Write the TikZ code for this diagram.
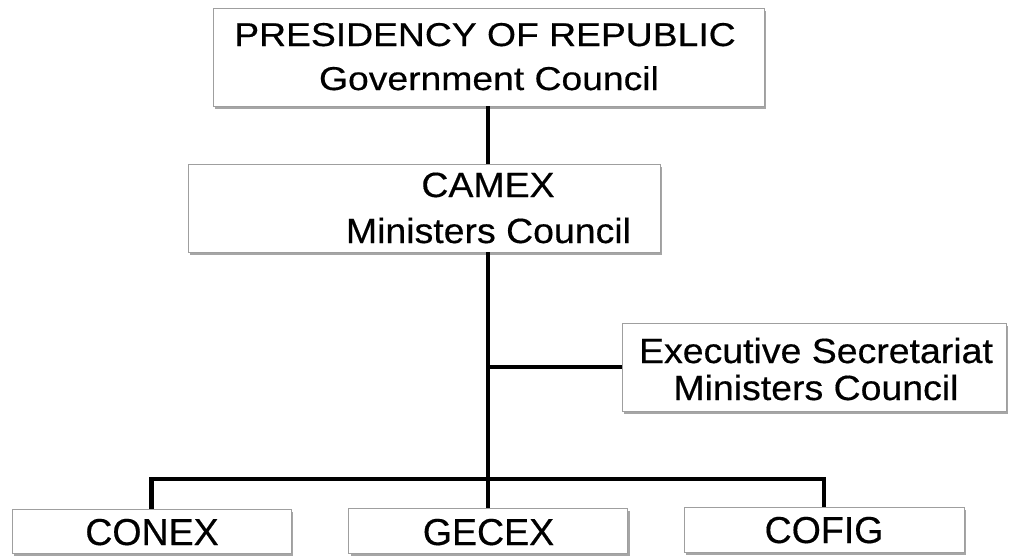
\documentclass[tikz,border=0pt]{standalone}
\usepackage{fontspec}
\setmainfont{Liberation Sans}
\newfontfamily\dfont[FakeBold=0.4]{Liberation Sans}
\usetikzlibrary{shadows}
\begin{document}
\begin{tikzpicture}[x=1pt,y=-1pt,
  box/.style={draw=gray!75, line width=0.8pt, fill=white, inner sep=0pt,
    drop shadow={shadow xshift=2pt,shadow yshift=-2.5pt,opacity=0.35,fill=black}},
  lbl/.style={anchor=base, inner sep=0pt},
  ftop/.style={font=\dfont\fontsize{33}{40}\selectfont},
  fmid/.style={font=\dfont\fontsize{35}{42}\selectfont},
  fbot/.style={font=\dfont\fontsize{37.5}{44}\selectfont},
  wire/.style={line width=4.5pt}]
\useasboundingbox (0,0) rectangle (1009,555);
\clip (0,0) rectangle (1009,555);
% boxes
\node[box, minimum width=551pt, minimum height=98pt] (pres) at (488.5,57) {};
\node[box, minimum width=472pt, minimum height=88pt] (camex) at (424,208) {};
\node[box, minimum width=384pt, minimum height=88pt] (exec) at (814,367) {};
\node[box, minimum width=279pt, minimum height=44pt] (conex) at (151.5,531) {};
\node[box, minimum width=279pt, minimum height=45pt] (gecex) at (488,530.5) {};
\node[box, minimum width=280pt, minimum height=45pt] (cofig) at (824,529.5) {};
% connectors
\coordinate (bus) at (488,479);
\draw[wire] (gecex.north |- pres.south) -- (gecex.north |- camex.north);
\draw[wire] (gecex.north |- camex.south) -- (gecex.north);
\draw[wire] (gecex.north |- exec.west) -- (exec.west);
\draw[wire] (conex.north) |- (bus) -| (cofig.north);
% labels
\node[lbl,ftop] (t1) at (485,46) {\scalebox{1.13}[1]{PRESIDENCY OF REPUBLIC}};
\node[lbl,ftop] (t2) at (489,90) {\scalebox{1.13}[1]{Government Council}};
\node[lbl,fmid] (t3) at (488,197) {\scalebox{1.07}[1]{CAMEX}};
\node[lbl,fmid] (t4) at (488.5,243) {\scalebox{1.07}[1]{Ministers Council}};
\node[lbl,fmid] (t5) at (816,363) {\scalebox{1.07}[1]{Executive Secretariat}};
\node[lbl,fmid] (t6) at (816,400) {\scalebox{1.07}[1]{Ministers Council}};
\node[lbl,fbot] (t7) at (152,545) {CONEX};
\node[lbl,fbot] (t8) at (488.5,545) {GECEX};
\node[lbl,fbot] (t9) at (824,543) {COFIG};
\end{tikzpicture}
\end{document}
